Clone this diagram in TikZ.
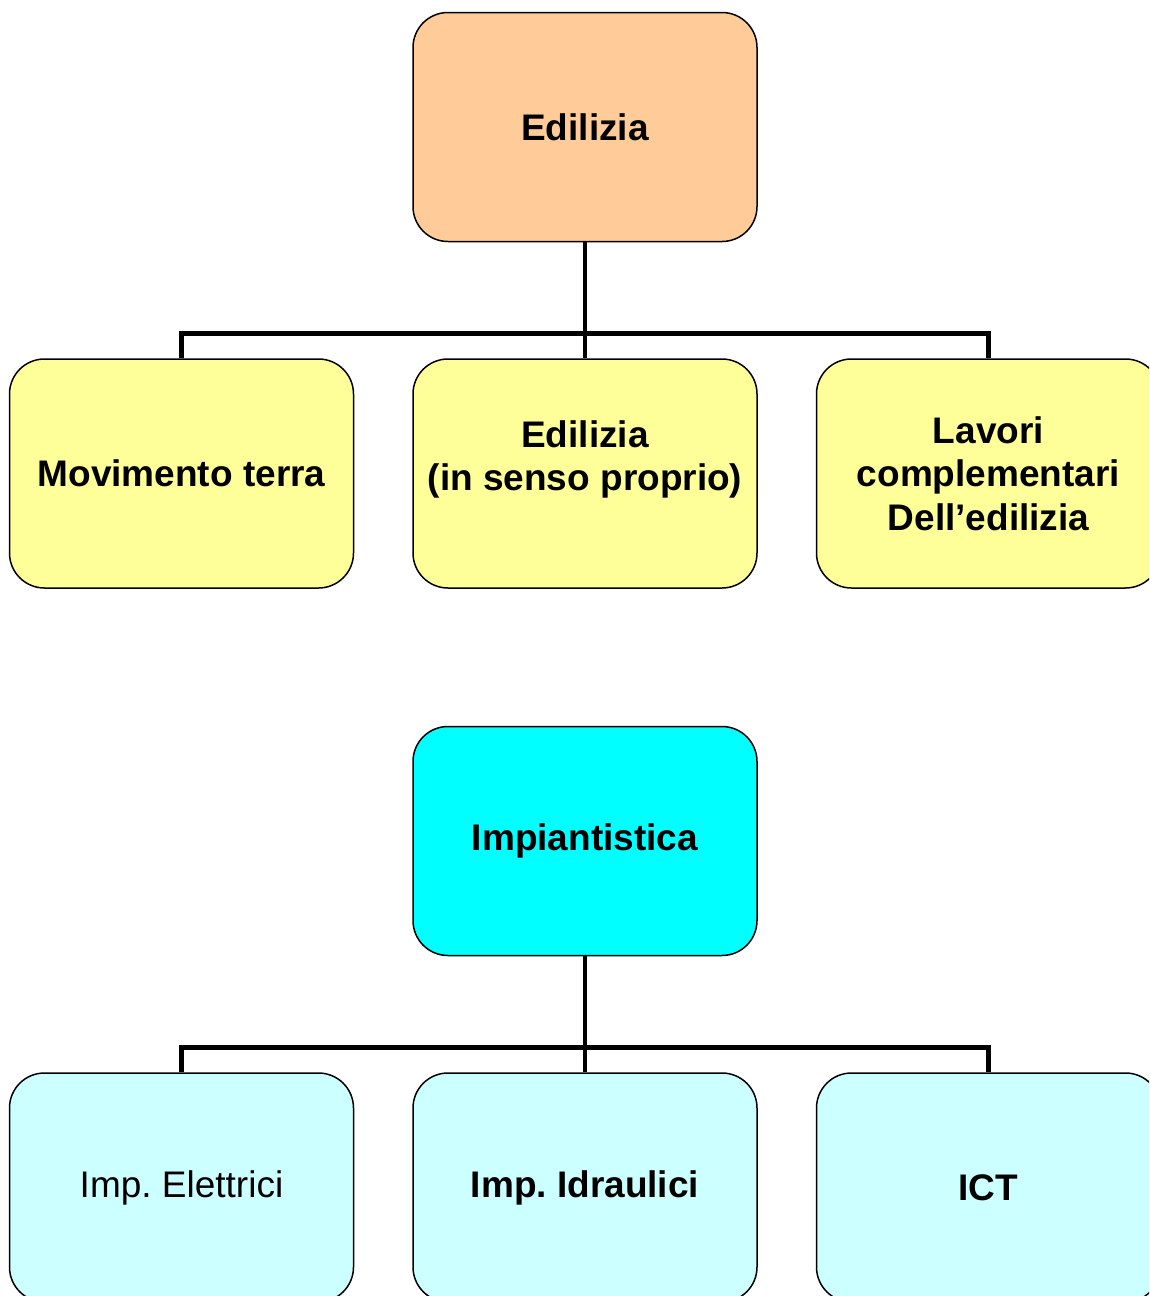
\documentclass[tikz,border=0pt]{standalone}
\usepackage{fontspec}
\setmainfont{Liberation Sans}
\frenchspacing
\usetikzlibrary{positioning}
\definecolor{peachBox}{HTML}{FFCC99}
\definecolor{yellowBox}{HTML}{FFFF99}
\definecolor{cyanBox}{HTML}{00FFFF}
\definecolor{paleCyanBox}{HTML}{CCFFFF}

\tikzset{
  box/.style={draw, line width=1.5pt, rounded corners=35pt, inner sep=0pt,
              minimum width=344pt, minimum height=229pt, align=center,
              font=\fontsize{37}{43.5}\selectfont\bfseries},
  conn/.style={line width=4.8pt}
}

\begin{document}
\begin{tikzpicture}[node distance=116pt and 58pt]
      \useasboundingbox (0,0) rectangle (1149pt,-1296pt);
      \clip (0,0) rectangle (1149pt,-1296pt);

      % edilizia
      \node [box, fill=peachBox] (edil) at (585pt,-127pt) {Edilizia};
      \node [box, fill=yellowBox, below=of edil, text depth=36pt] (propria)
            {Edilizia\\(in senso proprio)};
      \node [box, fill=yellowBox, left=of propria] (terra) {Movimento terra};
      \node [box, fill=yellowBox, right=of propria] (lavori)
            {Lavori\\complementari\\Dell’edilizia};

      \coordinate (ejoin) at ([yshift=-91pt]edil.south);
      \draw [conn] (edil.south) -- (propria.north);
      \draw [conn] (terra.north) |- (ejoin) -| (lavori.north);

      % impiantistica
      \node [box, fill=cyanBox, below=137pt of propria] (impianti)
            {Impiantistica};
      \node [box, fill=paleCyanBox, below=of impianti] (idraulici)
            {Imp. Idraulici};
      \node [box, fill=paleCyanBox, left=of idraulici,
             font=\fontsize{37}{43.5}\selectfont] (elettrici)
            {Imp. Elettrici};
      \node [box, fill=paleCyanBox, right=of idraulici] (ict) {ICT};

      \coordinate (ijoin) at ([yshift=-91pt]impianti.south);
      \draw [conn] (impianti.south) -- (idraulici.north);
      \draw [conn] (elettrici.north) |- (ijoin) -| (ict.north);
\end{tikzpicture}
\end{document}
